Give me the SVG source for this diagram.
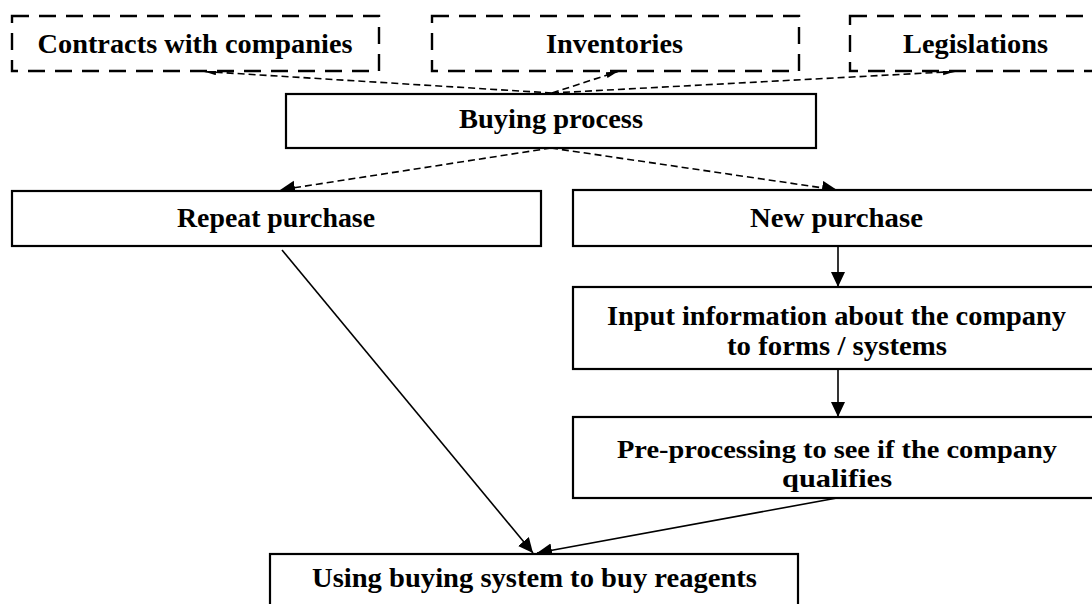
<svg xmlns="http://www.w3.org/2000/svg" width="1092" height="604" viewBox="0 0 1092 604">
<style>
.box{fill:#fff;stroke:#000;stroke-width:2.2}
.dbox{fill:#fff;stroke:#000;stroke-width:2.4;stroke-dasharray:17 10}
.t{font-family:"Liberation Serif","Times New Roman",serif;font-weight:bold;font-size:27px;fill:#000;text-anchor:middle}
.t2{font-size:26px}
.dl{fill:none;stroke:#000;stroke-width:1.6;stroke-dasharray:7 4}
.sl{fill:none;stroke:#000;stroke-width:1.6}
</style>
<defs>
<marker id="ah" markerUnits="userSpaceOnUse" markerWidth="16" markerHeight="16" refX="15" refY="7" orient="auto">
<path d="M0,0 L15,7 L0,14 z" fill="#000"/>
</marker>
<marker id="as" markerUnits="userSpaceOnUse" markerWidth="14" markerHeight="8" refX="12" refY="3" orient="auto">
<path d="M0,0 L12,3 L0,6 z" fill="#000"/>
</marker>
</defs>
<rect width="1092" height="604" fill="#fff"/>
<g id="connectors">
<line class="dl" x1="552" y1="93" x2="204" y2="71.5" marker-end="url(#as)"/>
<line class="dl" x1="552" y1="93" x2="618" y2="71.5" marker-end="url(#as)"/>
<line class="dl" x1="552" y1="93" x2="955" y2="71.5" marker-end="url(#as)"/>
<line class="dl" x1="551" y1="148" x2="280" y2="190" marker-end="url(#ah)"/>
<line class="dl" x1="551" y1="148" x2="837" y2="190" marker-end="url(#ah)"/>
<line class="sl" x1="838" y1="246" x2="838" y2="287" marker-end="url(#ah)"/>
<line class="sl" x1="838" y1="369" x2="838" y2="417" marker-end="url(#ah)"/>
<line class="sl" x1="282" y1="250" x2="533" y2="553" marker-end="url(#ah)"/>
<line class="sl" x1="837" y1="498" x2="537" y2="553" marker-end="url(#ah)"/>
</g>
<g id="contracts">
<rect class="dbox" x="12" y="16" width="367" height="55"/>
<text class="t" x="195" y="53" textLength="315" lengthAdjust="spacingAndGlyphs">Contracts with companies</text>
</g>
<g id="inventories">
<rect class="dbox" x="432" y="16" width="367" height="55"/>
<text class="t" x="614.5" y="53" textLength="137" lengthAdjust="spacingAndGlyphs">Inventories</text>
</g>
<g id="legislations">
<rect class="dbox" x="850" y="16" width="260" height="55"/>
<text class="t" x="975.5" y="53" textLength="145" lengthAdjust="spacingAndGlyphs">Legislations</text>
</g>
<g id="buying-process">
<rect class="box" x="286" y="94" width="530" height="54"/>
<text class="t" x="551" y="128" textLength="184" lengthAdjust="spacingAndGlyphs">Buying process</text>
</g>
<g id="repeat-purchase">
<rect class="box" x="12" y="191" width="529" height="55"/>
<text class="t" x="276" y="227" textLength="198" lengthAdjust="spacingAndGlyphs">Repeat purchase</text>
</g>
<g id="new-purchase">
<rect class="box" x="573" y="190" width="528" height="56"/>
<text class="t" x="836.5" y="227" textLength="173" lengthAdjust="spacingAndGlyphs">New purchase</text>
</g>
<g id="input-information">
<rect class="box" x="573" y="287" width="528" height="82"/>
<text class="t" x="836.5" y="325" textLength="459" lengthAdjust="spacingAndGlyphs">Input information about the company</text>
<text class="t" x="837" y="355" textLength="220" lengthAdjust="spacingAndGlyphs">to forms / systems</text>
</g>
<g id="pre-processing">
<rect class="box" x="573" y="417" width="528" height="81"/>
<text class="t t2" x="837" y="458" textLength="440" lengthAdjust="spacingAndGlyphs">Pre-processing to see if the company</text>
<text class="t t2" x="837" y="487" textLength="110" lengthAdjust="spacingAndGlyphs">qualifies</text>
</g>
<g id="using-buying-system">
<rect class="box" x="270" y="554" width="528" height="60"/>
<text class="t" x="534.5" y="587" textLength="445" lengthAdjust="spacingAndGlyphs">Using buying system to buy reagents</text>
</g>
</svg>
